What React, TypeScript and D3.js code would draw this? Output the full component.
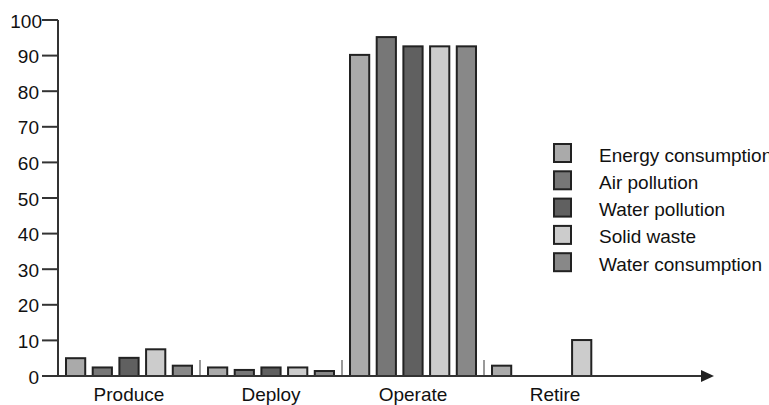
import React from "react";
import * as d3 from "d3";

const categories = ["Produce", "Deploy", "Operate", "Retire"];
const seriesNames = [
  "Energy consumption",
  "Air pollution",
  "Water pollution",
  "Solid waste",
  "Water consumption",
];
const energyConsumption = [5.0, 2.4, 90.2, 2.9];
const airPollution = [2.4, 1.7, 95.2, 0];
const waterPollution = [5.1, 2.4, 92.6, 0];
const solidWaste = [7.5, 2.4, 92.6, 10.1];
const waterConsumption = [2.9, 1.4, 92.6, 0];
const yTicks = [0, 10, 20, 30, 40, 50, 60, 70, 80, 90, 100];
const seriesColors = ["#aaaaaa", "#777777", "#606060", "#cccccc", "#888888"];

const seriesValues = [energyConsumption, airPollution, waterPollution, solidWaste, waterConsumption];

const W = 769;
const H = 405;
const FONT = "'Liberation Sans', Arial, sans-serif";

export default function App() {
  const axisX = 58;
  const y = d3.scaleLinear().domain([0, 100]).range([376, 20]);
  const x = d3.scaleBand<string>().domain(categories).range([58, 626]).padding(0);
  const inner = d3
    .scaleBand<string>()
    .domain(seriesNames)
    .range([0, x.bandwidth()])
    .paddingInner(0.28)
    .paddingOuter(0.3);
  const y0 = y(0);
  const arrowTip = 714;

  return (
    <svg width={W} height={H} style={{ position: "absolute", left: 0, top: 0, background: "#fff" }} fontFamily={FONT}>
      {categories.map((c, ci) =>
        seriesNames.map((s, si) => {
          const v = seriesValues[si][ci];
          if (!v) return null;
          return (
            <rect
              key={c + s}
              x={(x(c) as number) + (inner(s) as number)}
              y={y(v)}
              width={inner.bandwidth()}
              height={y0 - y(v)}
              fill={seriesColors[si]}
              stroke="#222"
              strokeWidth={2}
            />
          );
        })
      )}
      {categories.slice(1).map((c) => (
        <line key={"sep" + c} x1={x(c)} x2={x(c)} y1={y0 - 16} y2={y0} stroke="#555" strokeWidth={1.2} />
      ))}
      <line x1={axisX} x2={axisX} y1={y(100)} y2={y0} stroke="#333" strokeWidth={2} />
      {yTicks.map((t) => (
        <g key={"t" + t}>
          <line x1={42} x2={axisX} y1={y(t)} y2={y(t)} stroke="#333" strokeWidth={2} />
          <text x={t === 100 ? 42 : 39} y={y(t) + 1} textAnchor="end" dominantBaseline="central" fontSize={19} fill="#111">
            {t}
          </text>
        </g>
      ))}
      <line x1={axisX} x2={arrowTip - 8} y1={y0} y2={y0} stroke="#333" strokeWidth={2} />
      <path d={`M${arrowTip},${y0} L${arrowTip - 13},${y0 - 6} L${arrowTip - 13},${y0 + 6} Z`} fill="#222" />
      {categories.map((c) => (
        <text key={"c" + c} x={(x(c) as number) + x.bandwidth() / 2} y={401} textAnchor="middle" fontSize={19} fill="#111">
          {c}
        </text>
      ))}
      {seriesNames.map((s, i) => {
        const cy = 153 + i * 27.3;
        return (
          <g key={"l" + s}>
            <rect x={554} y={cy - 9} width={17} height={18} fill={seriesColors[i]} stroke="#222" strokeWidth={2} />
            <text x={599} y={cy + 2} dominantBaseline="central" fontSize={19} fill="#111">
              {s}
            </text>
          </g>
        );
      })}
    </svg>
  );
}
